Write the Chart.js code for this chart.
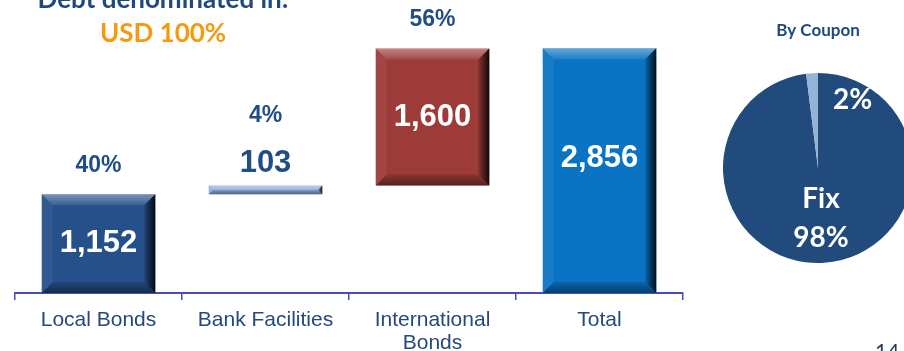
<!DOCTYPE html>
<html>
<head>
<meta charset="utf-8">
<script src="https://cdn.jsdelivr.net/npm/chart.js@4.4.1/dist/chart.umd.min.js"></script>
<style>
  html, body { margin: 0; padding: 0; background: #fff; overflow: hidden; }
  #wrap { position: relative; width: 904px; height: 351px; overflow: hidden; }
  #barras { position: absolute; left: 0; top: 0; }
  #torta { position: absolute; left: 723px; top: 73px; }
</style>
</head>
<body>
<div id="wrap">
  <canvas id="barras" width="904" height="351"></canvas>
  <canvas id="torta" width="190" height="190"></canvas>
</div>
<script>
// deuda por instrumento (USD millones)
const categorias = [['Local Bonds'], ['Bank Facilities'], ['International', 'Bonds'], ['Total']];
const montos = [1152, 103, 1600, 2856];
const participacion = ['40%', '4%', '56%', null];

// composición por cupón
const cuponEtiquetas = ['Fix', 'Variable'];
const cuponValores = [98, 2];

const coloresBarras = ['#26508a', '#8db1de', '#9d3b39', '#0a73c4'];
const azulTexto = '#1f4d86';

// tramos flotantes de la cascada; el último va desde cero
let acumulado = 0;
const tramos = montos.map((v, i) => {
    if (i === montos.length - 1) return [0, v];
    const t = [acumulado, acumulado + v];
    acumulado += v;
    return t;
});

function trapecio(ctx, pts, fill) {
    ctx.fillStyle = fill;
    ctx.beginPath();
    ctx.moveTo(pts[0][0], pts[0][1]);
    for (let k = 1; k < pts.length; k++) ctx.lineTo(pts[k][0], pts[k][1]);
    ctx.closePath();
    ctx.fill();
}

function biselar(ctx, bar) {
    const l = bar.x - bar.width / 2, r = bar.x + bar.width / 2;
    const t = Math.min(bar.y, bar.base), b = Math.max(bar.y, bar.base);
    const s = Math.min(11, (b - t) / 2);
    ctx.save();
    // borde superior claro
    let g = ctx.createLinearGradient(0, t, 0, t + s);
    g.addColorStop(0, 'rgba(255,255,255,0.38)');
    g.addColorStop(1, 'rgba(255,255,255,0.08)');
    trapecio(ctx, [[l, t], [r, t], [r - s, t + s], [l + s, t + s]], g);
    // borde izquierdo
    trapecio(ctx, [[l, t], [l + s, t + s], [l + s, b - s], [l, b]], 'rgba(255,255,255,0.06)');
    // borde inferior oscuro
    g = ctx.createLinearGradient(0, b - s, 0, b);
    g.addColorStop(0, 'rgba(0,0,0,0.12)');
    g.addColorStop(1, 'rgba(0,0,0,0.45)');
    trapecio(ctx, [[l, b], [r, b], [r - s, b - s], [l + s, b - s]], g);
    // borde derecho con sombra
    g = ctx.createLinearGradient(r - s, 0, r, 0);
    g.addColorStop(0, 'rgba(0,0,0,0.15)');
    g.addColorStop(1, 'rgba(0,0,0,0.88)');
    trapecio(ctx, [[r, t], [r, b], [r - s, b - s], [r - s, t + s]], g);
    ctx.restore();
}

const etiquetasBarras = {
    id: 'etiquetasBarras',
    afterDatasetsDraw(chart) {
        const ctx = chart.ctx;
        const meta = chart.getDatasetMeta(0);
        ctx.save();
        ctx.textAlign = 'center';
        ctx.textBaseline = 'middle';
        meta.data.forEach((bar, i) => {
            biselar(ctx, bar);
            const t = Math.min(bar.y, bar.base), b = Math.max(bar.y, bar.base);
            const h = b - t;
            const texto = montos[i].toLocaleString('en-US');
            let arribaPct = t - 29;
            ctx.font = 'bold 31px "Liberation Sans", Arial, sans-serif';
            if (h > 40) {
                ctx.fillStyle = '#ffffff';
                ctx.fillText(texto, bar.x, t + Math.min(h / 2, 110));
            } else {
                ctx.fillStyle = azulTexto;
                ctx.fillText(texto, bar.x, t - 22);
                arribaPct = t - 70;
            }
            if (participacion[i]) {
                ctx.font = 'bold 23px "Liberation Sans", Arial, sans-serif';
                ctx.fillStyle = azulTexto;
                ctx.fillText(participacion[i], bar.x, arribaPct);
            }
        });

        // títulos
        ctx.font = 'bold 26px Lato, sans-serif';
        ctx.fillStyle = '#1f4a7e';
        ctx.textBaseline = 'alphabetic';
        ctx.fillText('Debt denominated in:', 163, 8);
        ctx.fillStyle = '#f7990f';
        ctx.fillText('USD 100%', 163, 42);
        ctx.fillStyle = '#1f4a7e';
        ctx.font = 'bold 17px Lato, sans-serif';
        ctx.fillText('By Coupon', 818, 36);
        ctx.font = '21px Lato, sans-serif';
        ctx.fillStyle = '#2d3b52';
        ctx.textAlign = 'left';
        ctx.fillText('14', 875, 359);
        ctx.restore();
    }
};

new Chart(document.getElementById('barras'), {
    type: 'bar',
    data: {
        labels: categorias,
        datasets: [{
            data: tramos,
            backgroundColor: coloresBarras,
            borderWidth: 0,
            categoryPercentage: 1,
            barPercentage: 0.68
        }]
    },
    options: {
        responsive: false,
        animation: false,
        layout: { padding: { left: 15, right: 221, top: 36, bottom: 0 } },
        plugins: { legend: { display: false }, tooltip: { enabled: false } },
        scales: {
            x: {
                offset: true,
                afterFit: (scale) => { scale.height = 58; },
                grid: {
                    offset: true,
                    drawOnChartArea: false,
                    drawTicks: true,
                    tickLength: 7,
                    color: '#4c4cb6',
                    lineWidth: 1.5
                },
                border: { display: true, color: '#4c4cb6', width: 2 },
                ticks: {
                    color: '#24497b',
                    padding: 9,
                    font: { family: '"Liberation Sans", Arial, sans-serif', size: 21, lineHeight: 1.1 }
                }
            },
            y: { display: false, min: 0, max: 3000 }
        }
    },
    plugins: [etiquetasBarras]
});

const etiquetasTorta = {
    id: 'etiquetasTorta',
    afterDatasetsDraw(chart) {
        const ctx = chart.ctx;
        const arcos = chart.getDatasetMeta(0).data;
        const fijo = arcos[0];
        const p = fijo.tooltipPosition();
        ctx.save();
        ctx.fillStyle = '#ffffff';
        ctx.textAlign = 'center';
        ctx.textBaseline = 'middle';
        ctx.font = 'bold 28px Lato, sans-serif';
        ctx.fillText(cuponEtiquetas[0], p.x, p.y - 16);
        ctx.fillText(cuponValores[0] + '%', p.x, p.y + 23);
        // la rebanada chica lleva su rótulo a la derecha del corte
        const ang = 27 * Math.PI / 180;
        const rr = fijo.outerRadius * 0.8;
        ctx.fillText(cuponValores[1] + '%', fijo.x + rr * Math.sin(ang), fijo.y - rr * Math.cos(ang));
        ctx.restore();
    }
};

new Chart(document.getElementById('torta'), {
    type: 'pie',
    data: {
        labels: cuponEtiquetas,
        datasets: [{
            data: cuponValores,
            backgroundColor: ['#214a7d', '#95b3d7'],
            borderWidth: 0
        }]
    },
    options: {
        responsive: false,
        animation: false,
        layout: { padding: 0 },
        plugins: { legend: { display: false }, tooltip: { enabled: false } }
    },
    plugins: [etiquetasTorta]
});
</script>
</body>
</html>
